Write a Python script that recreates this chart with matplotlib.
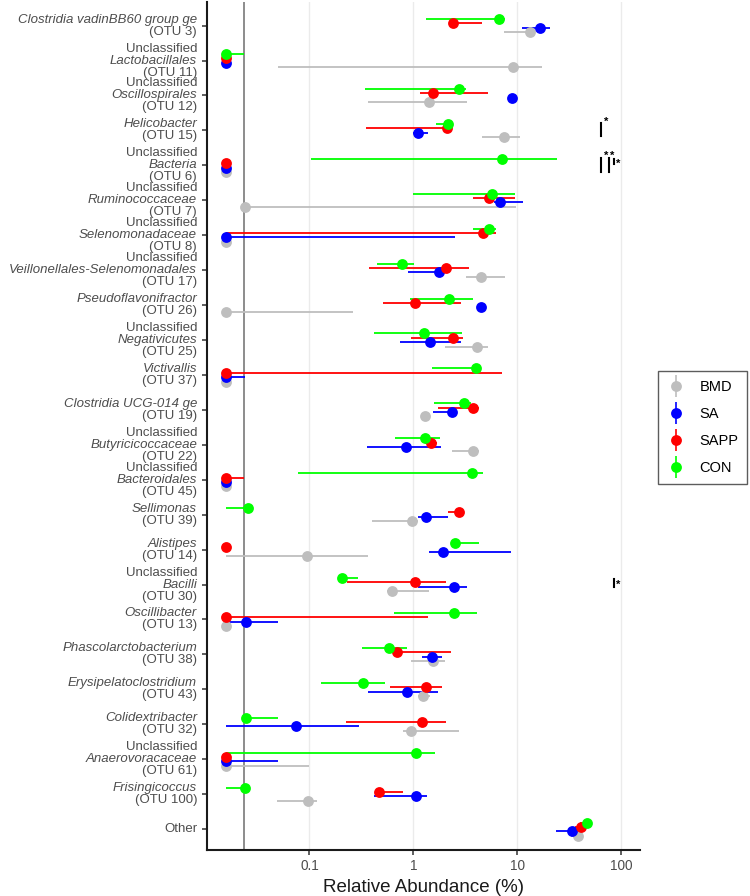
import numpy as np
import matplotlib
matplotlib.use("Agg")
import matplotlib.pyplot as plt
import matplotlib.transforms as mtransforms
from matplotlib.lines import Line2D
from matplotlib.legend_handler import HandlerTuple
from matplotlib.ticker import NullLocator

plt.rcParams['font.family'] = ['Liberation Sans', 'DejaVu Sans']

# taxa, top to bottom
labels = [
    "Clostridia vadinBB60 group ge\n(OTU 3)",
    "Unclassified\nLactobacillales\n(OTU 11)",
    "Unclassified\nOscillospirales\n(OTU 12)",
    "Helicobacter\n(OTU 15)",
    "Unclassified\nBacteria\n(OTU 6)",
    "Unclassified\nRuminococcaceae\n(OTU 7)",
    "Unclassified\nSelenomonadaceae\n(OTU 8)",
    "Unclassified\nVeillonellales-Selenomonadales\n(OTU 17)",
    "Pseudoflavonifractor\n(OTU 26)",
    "Unclassified\nNegativicutes\n(OTU 25)",
    "Victivallis\n(OTU 37)",
    "Clostridia UCG-014 ge\n(OTU 19)",
    "Unclassified\nButyricicoccaceae\n(OTU 22)",
    "Unclassified\nBacteroidales\n(OTU 45)",
    "Sellimonas\n(OTU 39)",
    "Alistipes\n(OTU 14)",
    "Unclassified\nBacilli\n(OTU 30)",
    "Oscillibacter\n(OTU 13)",
    "Phascolarctobacterium\n(OTU 38)",
    "Erysipelatoclostridium\n(OTU 43)",
    "Colidextribacter\n(OTU 32)",
    "Unclassified\nAnaerovoracaceae\n(OTU 61)",
    "Frisingicoccus\n(OTU 100)",
    "Other",
]

groups = ["BMD", "SA", "SAPP", "CON"]

# relative abundance (%) -- median and range per group
bmd_mid = [13.2, 9.1, 1.42, 7.5, 0, 0.024, 0, 4.52, 0, 4.11, 0, 1.29, 3.76, 0, 0.98, 0.095, 0.621, 0, 1.55, 1.24, 0.946, 0, 0.097, 38.4]
bmd_lo = [7.4, 0.0494, 0.363, 4.62, 0, 0.024, 0, 3.2, 0, 2.01, 0, 1.2, 2.33, 0, 0.396, 0, 0.56, 0, 0.95, 1.1, 0.8, 0, 0.049, 33]
bmd_hi = [14, 17.1, 3.25, 10.7, 0, 9.8, 0, 7.58, 0.264, 5.24, 0, 1.4, 4.3, 0, 1.1, 0.368, 1.41, 0, 2.0, 1.45, 2.74, 0.1, 0.117, 43]

sa_mid = [16.5, 0, 8.9, 1.11, 0, 6.79, 0, 1.77, 4.46, 1.44, 0, 2.33, 0.847, 0, 1.31, 1.94, 2.47, 0.0245, 1.52, 0.87, 0.074, 0, 1.05, 33.9]
sa_lo = [11.0, 0, 8.5, 1.0, 0, 5.9, 0, 0.88, 4.3, 0.74, 0, 1.55, 0.354, 0, 1.1, 1.41, 1.1, 0, 1.2, 0.368, 0, 0, 0.417, 23.8]
sa_hi = [20.5, 0, 9.3, 1.39, 0, 11.4, 2.5, 2.1, 4.6, 2.86, 0.024, 2.6, 1.83, 0, 2.16, 8.6, 3.25, 0.05, 1.9, 1.71, 0.30, 0.0494, 1.34, 40]

sapp_mid = [2.41, 0, 1.53, 2.12, 0, 5.28, 4.63, 2.05, 1.03, 2.41, 0, 3.76, 1.47, 0, 2.76, 0, 1.03, 0, 0.69, 1.32, 1.22, 0, 0.466, 40.8]
sapp_lo = [2.2, 0, 1.17, 0.347, 0, 3.76, 0, 0.376, 0.51, 0.94, 0, 1.73, 1.3, 0, 2.16, 0, 0.228, 0, 0.6, 0.6, 0.224, 0, 0.44, 36]
sapp_hi = [4.6, 0, 5.24, 2.2, 0, 9.46, 6.3, 3.44, 2.86, 3.0, 7.14, 4.3, 1.7, 0.0236, 3.0, 0, 2.04, 1.37, 2.28, 1.87, 2.04, 0, 0.787, 45]

con_mid = [6.7, 0, 2.76, 2.13, 7.05, 5.69, 5.36, 0.77, 2.19, 1.27, 3.96, 3.08, 1.29, 3.63, 0.0255, 2.54, 0.207, 2.47, 0.585, 0.329, 0.0245, 1.07, 0.024, 46.3]
con_lo = [1.32, 0, 0.342, 1.64, 0.103, 1.0, 3.76, 0.443, 0.925, 0.417, 1.50, 1.59, 0.66, 0.077, 0, 2.3, 0.19, 0.65, 0.318, 0.128, 0.0245, 0, 0, 40]
con_hi = [7.6, 0.0236, 3.18, 2.3, 24.1, 9.46, 6.21, 1.02, 3.71, 2.95, 4.5, 3.6, 1.8, 4.63, 0.027, 4.29, 0.29, 4.05, 0.86, 0.532, 0.05, 1.63, 0.025, 50]

data = {
    "BMD": (bmd_mid, bmd_lo, bmd_hi),
    "SA": (sa_mid, sa_lo, sa_hi),
    "SAPP": (sapp_mid, sapp_lo, sapp_hi),
    "CON": (con_mid, con_lo, con_hi),
}
colors = {"BMD": "#BEBEBE", "SA": "#0000FF", "SAPP": "#FF0000", "CON": "#00FF00"}
dodge = {"BMD": 0.1875, "SA": 0.0625, "SAPP": -0.0625, "CON": -0.1875}

zero_pos = 0.0157   # where zeros get drawn on the log axis
detect_lim = 0.0236

# significance marks: (row, x, y offset start, y offset end)
sig_bars = [(3, 64.5, -0.21, 0.17), (4, 64.5, -0.21, 0.19), (4, 76, -0.21, 0.19),
            (4, 85, -0.17, -0.03), (16, 85, -0.17, 0.06)]
sig_stars = [(3, 71, -0.24), (4, 72.2, -0.27), (4, 81.3, -0.27), (4, 93, -0.04), (16, 93, 0.01)]

fig = plt.figure(figsize=(7.5, 8.96), dpi=100)
ax = fig.add_axes([0.276, 0.0513, 0.577, 0.947])

rows = np.arange(len(labels))

# error lines first, points on top
for g in groups:
    mid, lo, hi = [np.where(np.array(a) <= 0, zero_pos, np.array(a, dtype=float)) for a in data[g]]
    y = rows + dodge[g]
    ax.hlines(y, lo, hi, color=colors[g], lw=1.3, zorder=2)
for g in groups:
    mid = np.array(data[g][0], dtype=float)
    mid = np.where(mid <= 0, zero_pos, mid)
    ax.plot(mid, rows + dodge[g], 'o', ms=7.8, color=colors[g], mec='none', zorder=3)

ax.axvline(detect_lim, color='#8C8C8C', lw=1.4, zorder=1.5)

ax.set_xscale('log')
ax.set_xlim(0.01033, 150.6)
ax.set_ylim(23.6, -0.69)
ax.set_xticks([0.1, 1, 10, 100])
ax.set_xticklabels(["0.1", "1", "10", "100"])
ax.xaxis.set_minor_locator(NullLocator())
ax.grid(axis='x', color='#EBEBEB', lw=1.0)
ax.set_axisbelow(True)

ax.set_yticks(rows)
ax.set_yticklabels([])
for s in ['top', 'right']:
    ax.spines[s].set_visible(False)
for s in ['left', 'bottom']:
    ax.spines[s].set_linewidth(1.5)
    ax.spines[s].set_color('#1a1a1a')
ax.tick_params(axis='both', length=3.5, width=1.1, color='#333333',
               labelcolor='#4D4D4D', labelsize=9.8)
ax.tick_params(axis='x', pad=3)
ax.set_xlabel("Relative Abundance (%)", fontsize=13.5, color='#1a1a1a', labelpad=4)

# y labels, one text per line so genus names can be italic
base = ax.get_yaxis_transform()
for i, lab in enumerate(labels):
    lines = lab.split("\n")
    n = len(lines)
    for k, line in enumerate(lines):
        style = 'normal' if (line.startswith('(') or line in ('Unclassified', 'Other')) else 'italic'
        dy = ((n - 1) / 2 - k) * 8.64
        tr = mtransforms.offset_copy(base, fig=fig, x=-7.2, y=dy, units='points')
        ax.text(0, i, line, transform=tr, ha='right', va='center', fontsize=9.5,
                color='#4D4D4D', style=style)

for r, x, a, b in sig_bars:
    ax.plot([x, x], [r + a, r + b], color='black', lw=1.5, clip_on=False, zorder=4)
for r, x, a in sig_stars:
    ax.text(x, r + a, "*", fontsize=8, fontweight='bold', ha='center', va='center', zorder=4)

handles = []
for g in groups:
    handles.append((Line2D([], [], marker='|', ms=16, mew=1.2, color=colors[g], ls='none'),
                    Line2D([], [], marker='o', ms=7.8, color=colors[g], mec='none', ls='none')))
leg = fig.legend(handles, groups, handler_map={tuple: HandlerTuple(ndivide=1, pad=0)},
                 loc='center', bbox_to_anchor=(0.937, 0.523), bbox_transform=fig.transFigure,
                 fontsize=10.5, frameon=True, fancybox=False, edgecolor='#333333',
                 handlelength=1.2, handletextpad=1.0, labelspacing=0.9, borderpad=0.6)
leg.get_frame().set_linewidth(1.0)

fig.savefig("out.png", dpi=100)
